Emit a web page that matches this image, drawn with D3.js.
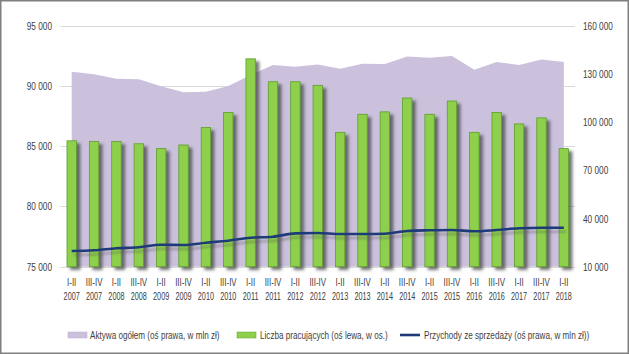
<!DOCTYPE html>
<html>
<head>
<meta charset="utf-8">
<script src="https://cdn.jsdelivr.net/npm/d3@7/dist/d3.min.js"></script>
<style>
  html, body { margin: 0; padding: 0; background: #fff; }
  svg { display: block; }
  text { font-family: "Liberation Sans", Arial, sans-serif; fill: #404040; }
</style>
</head>
<body>
<svg id="chart" width="629" height="354"></svg>
<script>
// ---- data ----
const periods = ["I-II","III-IV","I-II","III-IV","I-II","III-IV","I-II","III-IV","I-II","III-IV","I-II","III-IV",
                 "I-II","III-IV","I-II","III-IV","I-II","III-IV","I-II","III-IV","I-II","III-IV","I-II"];
const years = ["2007","2007","2008","2008","2009","2009","2010","2010","2011","2011","2012","2012",
               "2013","2013","2014","2014","2015","2015","2016","2016","2017","2017","2018"];
// Liczba pracujących (left axis, persons)
const employed = [85450,85400,85400,85200,84800,85100,86550,87800,92250,90350,90350,90050,
                  86150,87650,87850,89000,87650,88750,86150,87800,86850,87350,84800];
// Aktywa ogółem (right axis, mln zł)
const assets = [131400,129800,127000,126700,122300,118600,118900,122400,129300,135500,134500,135800,
                133200,136300,136100,140900,140000,141200,132600,137400,135600,138900,137400];
// Przychody ze sprzedaży (right axis, mln zł)
const revenue = [19800,20200,21450,22070,23700,23500,24940,26180,28050,28670,30750,31000,
                 30350,30350,30540,32220,32650,32840,32030,32840,33900,34270,34270];
const leftTicks = [75000,80000,85000,90000,95000];
const rightTicks = [10000,40000,70000,100000,130000,160000];
const legendLabels = ["Aktywa ogółem (oś prawa, w mln zł)", "Liczba pracujących (oś lewa, w os.)", "Przychody ze sprzedaży (oś prawa, w mln zł))"];

// ---- layout ----
const W = 629, H = 354;
const plot = { left: 60.5, right: 575, top: 25.7, bottom: 266.7 };
const svg = d3.select("#chart");
const fmt = d3.formatLocale({ decimal: ",", thousands: " ", grouping: [3], currency: ["", " zł"] }).format(",d");

// narrow the text horizontally (reference uses a condensed face)
function squeeze(sel, factor) {
  sel.each(function () {
    const n = this.getComputedTextLength();
    this.setAttribute("textLength", n * factor);
    this.setAttribute("lengthAdjust", "spacingAndGlyphs");
  });
}

const idx = d3.range(periods.length);
const x = d3.scaleBand().domain(idx).range([plot.left, plot.right]).padding(0);
const cx = i => x(i) + x.bandwidth() / 2;
const yL = d3.scaleLinear().domain([75000, 95000]).range([plot.bottom, plot.top]);
const yR = d3.scaleLinear().domain([10000, 160000]).range([plot.bottom, plot.top]);

// defs: shadows
const defs = svg.append("defs");
const fb = defs.append("filter").attr("id", "barShadow").attr("x", "-50%").attr("y", "-10%").attr("width", "200%").attr("height", "130%");
fb.append("feDropShadow").attr("dx", 3.5).attr("dy", 3).attr("stdDeviation", 1.4).attr("flood-color", "#3a3a3a").attr("flood-opacity", 0.7);
const fl = defs.append("filter").attr("id", "lineShadow").attr("x", "-10%").attr("y", "-50%").attr("width", "120%").attr("height", "300%");
fl.append("feDropShadow").attr("dx", 2).attr("dy", 4).attr("stdDeviation", 1.2).attr("flood-color", "#555").attr("flood-opacity", 0.35);

// background & frame
svg.append("rect").attr("x", 0.75).attr("y", 0.75).attr("width", W - 1.5).attr("height", H - 1.5)
  .attr("fill", "#fff").attr("stroke", "#7f7f7f").attr("stroke-width", 1.5);

// gridlines (left axis)
svg.append("g").selectAll("line").data(leftTicks).join("line")
  .attr("x1", plot.left).attr("x2", plot.right)
  .attr("y1", d => Math.round(yL(d)) + 0.5).attr("y2", d => Math.round(yL(d)) + 0.5)
  .attr("stroke", "#d9d9d9").attr("stroke-width", 1);

// area
const area = d3.area().x((d, i) => cx(i)).y0(plot.bottom).y1(d => yR(d));
svg.append("path").datum(assets).attr("d", area).attr("fill", "#cbc1dd");

// bars
const bw = x.bandwidth() * 0.42;
svg.append("g").attr("filter", "url(#barShadow)").selectAll("rect").data(employed).join("rect")
  .attr("x", (d, i) => cx(i) - bw / 2)
  .attr("y", d => yL(d))
  .attr("width", bw)
  .attr("height", d => plot.bottom - yL(d))
  .attr("fill", "#8ed04b").attr("stroke", "#5e9e2c").attr("stroke-width", 0.8);

// line
const line = d3.line().x((d, i) => cx(i)).y(d => yR(d)).curve(d3.curveMonotoneX);
svg.append("path").datum(revenue).attr("d", line).attr("fill", "none")
  .attr("stroke", "#1f3a78").attr("stroke-width", 2.6).attr("filter", "url(#lineShadow)");

// left axis labels
const axL = d3.axisLeft(yL).tickValues(leftTicks).tickFormat(fmt).tickSize(0).tickPadding(0);
const gL = svg.append("g").attr("transform", `translate(${52},0)`).call(axL);
gL.select(".domain").remove();
gL.attr("font-family", null);
gL.selectAll("text").attr("font-size", 11).attr("fill", "#404040");
squeeze(gL.selectAll("text"), 0.75);

// right axis labels
const axR = d3.axisRight(yR).tickValues(rightTicks).tickFormat(fmt).tickSize(0).tickPadding(0);
const gR = svg.append("g").attr("transform", `translate(${583},0)`).call(axR);
gR.select(".domain").remove();
gR.attr("font-family", null);
gR.selectAll("text").attr("font-size", 11).attr("fill", "#404040");
squeeze(gR.selectAll("text"), 0.75);

// x labels
const gx = svg.append("g");
gx.selectAll("text.p").data(idx).join("text").attr("class", "p")
  .attr("x", i => cx(i)).attr("y", 285.5).attr("text-anchor", "middle").attr("font-size", 11)
  .text(i => periods[i]);
gx.selectAll("text.yr").data(idx).join("text").attr("class", "yr")
  .attr("x", i => cx(i)).attr("y", 300).attr("text-anchor", "middle").attr("font-size", 11)
  .text(i => years[i]);
squeeze(gx.selectAll("text.p"), 0.72);
squeeze(gx.selectAll("text.yr"), 0.66);

// legend
const lg = svg.append("g");
const ly = 335;
const legendItems = [
  { sx: 68, tx: 90, kind: "area" },
  { sx: 237, tx: 260, kind: "bar" },
  { sx: 400, tx: 424, kind: "line" }
];
legendItems.forEach((it, k) => {
  if (it.kind === "area") {
    lg.append("rect").attr("x", it.sx).attr("y", ly - 3).attr("width", 19).attr("height", 6)
      .attr("fill", "#cbc1dd").attr("stroke", "#b8acd0").attr("stroke-width", 0.5);
  } else if (it.kind === "bar") {
    lg.append("rect").attr("x", it.sx).attr("y", ly - 3).attr("width", 19).attr("height", 6)
      .attr("fill", "#8ed04b").attr("stroke", "#5e9e2c").attr("stroke-width", 0.5);
  } else {
    lg.append("line").attr("x1", it.sx).attr("x2", it.sx + 20).attr("y1", ly).attr("y2", ly)
      .attr("stroke", "#1f3a78").attr("stroke-width", 2.6);
  }
  lg.append("text").attr("transform", `translate(${it.tx},${ly + 4}) scale(0.74,1)`)
    .attr("font-size", 11).text(legendLabels[k]);
});
</script>
</body>
</html>
